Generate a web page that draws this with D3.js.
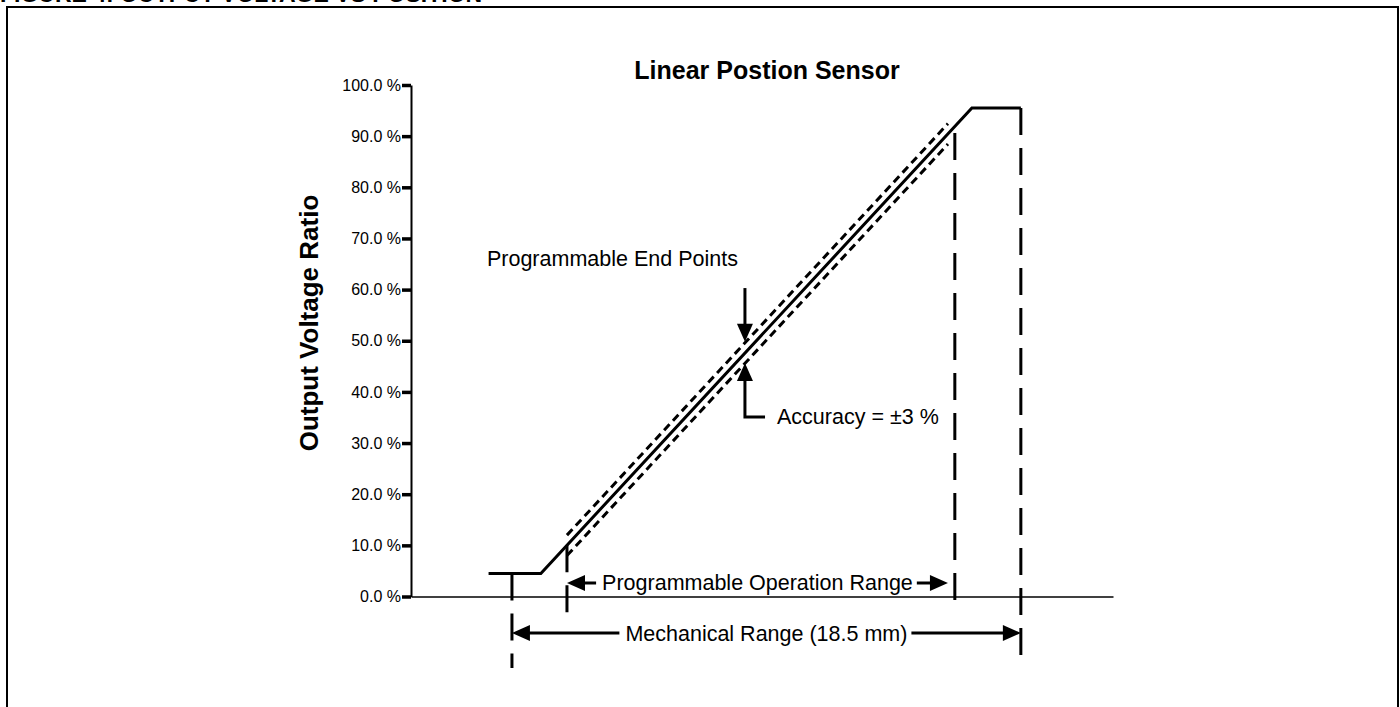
<!DOCTYPE html>
<html>
<head>
<meta charset="utf-8">
<script src="https://cdn.jsdelivr.net/npm/d3@7"></script>
<style>
  html, body { margin: 0; padding: 0; background: #fff; }
  svg { display: block; font-family: Arial, "Liberation Sans", sans-serif; }
</style>
</head>
<body>
<svg id="chart" width="1400" height="707"></svg>
<script>
/* ---------- data (position in mm, output in %) ---------- */
const yTicks = [0, 10, 20, 30, 40, 50, 60, 70, 80, 90, 100];

// ideal transfer curve: low clamp, linear ramp, high clamp
const transferPos = [-0.85, 1.05, 16.72, 18.5];
const transferOut = [4.5, 4.5, 95.5, 95.5];

// accuracy band drawn either side of the ramp
const bandPos = [2.0, 15.85];
const bandUpper = [12.0, 92.45];
const bandLower = [8.0, 88.45];

// dashed vertical markers: mechanical start, prog start, prog end, mechanical end
const markerPos = [0, 2.0, 16.1, 18.5];
const markerTop = [4.5, 10.0, 90.6, 95.5];
const markerBottom = [-14.0, -3.2, -3.0, -12.8];

// range arrows
const opRange = [2.0, 15.85];        // programmable operation range, arrow tips
const opRangeLevel = 2.64;
const mechRange = [0, 18.5];         // mechanical range, arrow tips
const mechRangeLevel = -7.14;

// callouts
const endPointsArrow = { pos: 8.47, from: 60.3, to: 49.8 };
const accuracyArrow = { pos: 8.47, elbowPos: 9.2, from: 35.1, to: 45.65 };

/* ---------- setup ---------- */
const svg = d3.select('#chart');
const x = d3.scaleLinear().domain([-3.67, 21.85]).range([411, 1113]);
const y = d3.scaleLinear().domain([0, 100]).range([596.5, 85]);

// page frame + cut-off figure caption
svg.append('rect')
  .attr('x', 7).attr('y', 7)
  .attr('width', 1391).attr('height', 820)
  .attr('fill', 'none').attr('stroke', '#000').attr('stroke-width', 2);

svg.append('text')
  .attr('x', 0).attr('y', 1.5)
  .attr('font-size', 23).attr('font-weight', 'bold')
  .text('FIGURE 4: OUTPUT VOLTAGE VS POSITION');

// title + y label
svg.append('text')
  .attr('x', 767).attr('y', 79)
  .attr('text-anchor', 'middle')
  .attr('font-size', 25).attr('font-weight', 'bold')
  .text('Linear Postion Sensor');

svg.append('text')
  .attr('transform', 'translate(318,323) rotate(-90)')
  .attr('text-anchor', 'middle')
  .attr('font-size', 26).attr('font-weight', 'bold')
  .text('Output Voltage Ratio');

/* ---------- axes ---------- */
const yAxis = svg.append('g')
  .attr('transform', `translate(${x.range()[0]},0)`)
  .call(d3.axisLeft(y).tickValues(yTicks).tickSize(9).tickSizeOuter(0).tickPadding(1)
    .tickFormat(d => d.toFixed(1) + ' %'));
yAxis.select('.domain').attr('stroke', '#000').attr('stroke-width', 2);
yAxis.selectAll('.tick line').attr('stroke', '#000').attr('stroke-width', 3.5);
yAxis.selectAll('.tick text')
  .attr('fill', '#000').attr('font-size', 16)
  .attr('font-family', 'Arial, "Liberation Sans", sans-serif');

const xAxis = svg.append('g')
  .attr('transform', `translate(0,${y(0)})`)
  .call(d3.axisBottom(x).tickValues([]).tickSizeOuter(0));
xAxis.select('.domain').attr('stroke', '#000').attr('stroke-width', 1.3);

/* ---------- curves ---------- */
const line = d3.line().x(d => x(d[0])).y(d => y(d[1]));

[bandUpper, bandLower].forEach(band => {
  svg.append('path')
    .datum(d3.zip(bandPos, band))
    .attr('d', line)
    .attr('fill', 'none').attr('stroke', '#000')
    .attr('stroke-width', 3).attr('stroke-dasharray', '8,5');
});

svg.append('path')
  .datum(d3.zip(transferPos, transferOut))
  .attr('d', line)
  .attr('fill', 'none').attr('stroke', '#000')
  .attr('stroke-width', 3);

svg.append('g')
  .selectAll('line')
  .data(d3.zip(markerPos, markerTop, markerBottom))
  .join('line')
  .attr('x1', d => x(d[0])).attr('x2', d => x(d[0]))
  .attr('y1', d => y(d[1])).attr('y2', d => y(d[2]))
  .attr('stroke', '#000').attr('stroke-width', 3)
  .attr('stroke-dasharray', '27,13');

/* ---------- arrows ---------- */
const HEAD = 18, HALF = 8;

function head(tx, ty, dir) {
  // dir: direction the tip points
  let p;
  if (dir === 'left')  p = [[tx, ty], [tx + HEAD, ty - HALF], [tx + HEAD, ty + HALF]];
  if (dir === 'right') p = [[tx, ty], [tx - HEAD, ty - HALF], [tx - HEAD, ty + HALF]];
  if (dir === 'down')  p = [[tx, ty], [tx - HALF, ty - HEAD], [tx + HALF, ty - HEAD]];
  if (dir === 'up')    p = [[tx, ty], [tx - HALF, ty + HEAD], [tx + HALF, ty + HEAD]];
  svg.append('path').attr('d', 'M' + p.join('L') + 'Z').attr('fill', '#000');
}

function seg(x1, y1, x2, y2) {
  svg.append('line')
    .attr('x1', x1).attr('y1', y1).attr('x2', x2).attr('y2', y2)
    .attr('stroke', '#000').attr('stroke-width', 3);
}

function rangeArrow(range, level, label) {
  const x1 = x(range[0]), x2 = x(range[1]), yy = y(level);
  const t = svg.append('text')
    .attr('x', (x1 + x2) / 2).attr('y', yy + 7.5)
    .attr('text-anchor', 'middle')
    .attr('font-size', 21.5)
    .text(label);
  const bb = t.node().getBBox();
  head(x1, yy, 'left');
  head(x2, yy, 'right');
  seg(x1 + HEAD - 1, yy, bb.x - 6, yy);
  seg(bb.x + bb.width + 4, yy, x2 - HEAD + 1, yy);
}

rangeArrow(opRange, opRangeLevel, 'Programmable Operation Range');
rangeArrow(mechRange, mechRangeLevel, 'Mechanical Range (18.5 mm)');

// programmable end points callout
{
  const ax = x(endPointsArrow.pos);
  seg(ax, y(endPointsArrow.from), ax, y(endPointsArrow.to) - HEAD + 1);
  head(ax, y(endPointsArrow.to), 'down');
  svg.append('text')
    .attr('x', ax - 258).attr('y', y(endPointsArrow.from) - 22)
    .attr('font-size', 21.5)
    .text('Programmable End Points');
}

// accuracy callout
{
  const ax = x(accuracyArrow.pos);
  const ey = y(accuracyArrow.from);
  svg.append('path')
    .attr('d', `M${x(accuracyArrow.elbowPos)},${ey}H${ax}V${y(accuracyArrow.to) + HEAD - 1}`)
    .attr('fill', 'none').attr('stroke', '#000').attr('stroke-width', 3);
  head(ax, y(accuracyArrow.to), 'up');
  svg.append('text')
    .attr('x', x(accuracyArrow.elbowPos) + 12).attr('y', ey + 7)
    .attr('font-size', 21.5)
    .text('Accuracy = \u00b13 %');
}
</script>
</body>
</html>
